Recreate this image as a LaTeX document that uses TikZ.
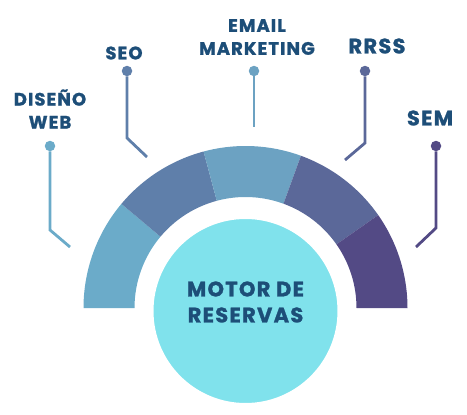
\documentclass[tikz,border=0pt]{standalone}
\usepackage{fontspec}
\setmainfont{Poppins}[LetterSpace=6, BoldFeatures={FakeBold=1.2}]
\usetikzlibrary{positioning, calc}
\definecolor{segA}{RGB}{107,171,201}
\definecolor{segB}{RGB}{95,127,170}
\definecolor{segC}{RGB}{108,162,194}
\definecolor{segD}{RGB}{91,104,153}
\definecolor{segE}{RGB}{83,74,133}
\definecolor{hubfill}{RGB}{128,226,236}
\definecolor{labelblue}{RGB}{29,78,120}
\tikzset{
  label/.style={font=\bfseries\fontsize{18}{23}\selectfont, text=labelblue,
    align=center, inner sep=0pt},
  biglabel/.style={label, font=\bfseries\fontsize{21}{25}\selectfont},
  pindot/.style={circle, inner sep=0pt, minimum size=10.5pt},
  pinline/.style={line width=2.8pt}
}
\begin{document}
\begin{tikzpicture}[x=1pt, y=-1pt]
  \useasboundingbox (0,0) rectangle (467,415);
  % arc segments
  \foreach \a/\b/\c in {140/180/segA, 105/140/segB, 70/105/segC, 35/70/segD, 0/35/segE}
    \fill[\c] ($(245.5,308)+(\a:162 and -162)$) arc[start angle=\a, end angle=\b, x radius=162, y radius=-162]
      -- ($(245.5,308)+(\b:111 and -111)$) arc[start angle=\b, end angle=\a, x radius=111, y radius=-111] -- cycle;
  % hub
  \node[circle, fill=hubfill, draw=white, line width=6pt, minimum size=190pt] (hub) at (245.5,311) {};
  \node[label, font=\bfseries\fontsize{21}{26}\selectfont] (hubtext) at (245.5,302) {MOTOR DE\\RESERVAS};
  % pins
  \node[pindot, fill=segA] (dot1) at (50,146) {};
  \node[pindot, fill=segB] (dot2) at (127,71) {};
  \node[pindot, fill=segC] (dot3) at (254,71) {};
  \node[pindot, fill=segD] (dot4) at (365,71) {};
  \node[pindot, fill=segE] (dot5) at (436,146) {};
  \coordinate (bend1) at (50,230);  \coordinate (end1) at (70,247);
  \coordinate (bend2) at (127,138); \coordinate (end2) at (147,157);
  \coordinate (end3) at (254,127);
  \coordinate (bend4) at (365,143); \coordinate (end4) at (345,160);
  \coordinate (bend5) at (436,228); \coordinate (end5) at (416,247);
  \draw[pinline, segA] (dot1) -- (bend1) -- (end1);
  \draw[pinline, segB] (dot2) -- (bend2) -- (end2);
  \draw[pinline, segC] (dot3) -- (end3);
  \draw[pinline, segD] (dot4) -- (bend4) -- (end4);
  \draw[pinline, segE] (dot5) -- (bend5) -- (end5);
  % labels
  \node[label] (web) at (50,109) {DISEÑO\\WEB};
  \node[label] (seo) at (124,53) {SEO};
  \node[label] (email) at (257,37) {EMAIL\\MARKETING};
  \node[biglabel] (rrss) at (377,46) {RRSS};
  \node[biglabel] (sem) at (430,118) {SEM};
\end{tikzpicture}
\end{document}
